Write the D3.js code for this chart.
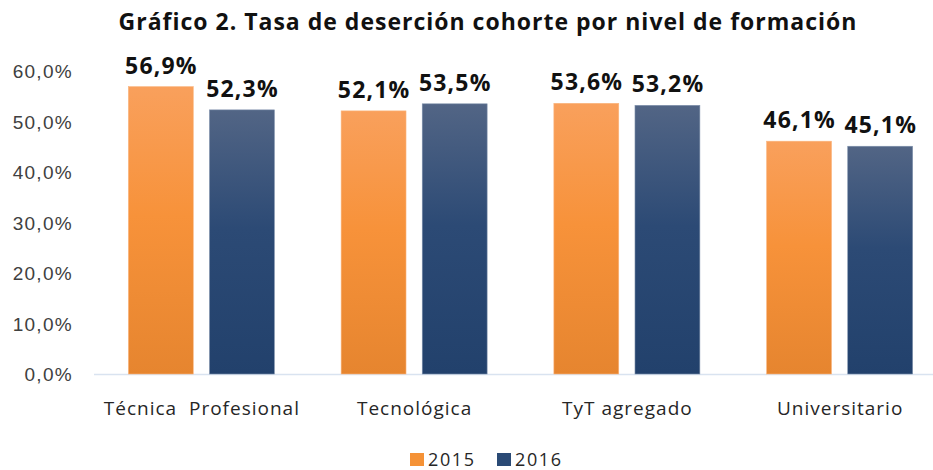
<!DOCTYPE html>
<html lang="es">
<head>
<meta charset="UTF-8">
<title>Tasa de deserción cohorte</title>
<script src="https://cdnjs.cloudflare.com/ajax/libs/d3/7.8.5/d3.min.js"></script>
<style>
    body { margin: 0; background: #fff; }
    svg { display: block; font-family: 'Open Sans', 'Noto Sans', sans-serif; }
    .tick text { fill: #404040; }
</style>
</head>
<body>
<script>
var categories = ["Técnica  Profesional", "Tecnológica", "TyT agregado", "Universitario"];
var years = ["2015", "2016"];
var values2015 = [56.9, 52.1, 53.6, 46.1];
var values2016 = [52.3, 53.5, 53.2, 45.1];
var yTicks = [0, 10, 20, 30, 40, 50, 60];

var W = 933, H = 470;
var base = 374, top60 = 71;

var svg = d3.select("body").append("svg")
    .attr("width", W).attr("height", H);

var defs = svg.append("defs");
function grad(id, c1, c2, c3) {
    var g = defs.append("linearGradient").attr("id", id)
        .attr("x1", 0).attr("y1", 0).attr("x2", 0).attr("y2", 1);
    g.append("stop").attr("offset", "0%").attr("stop-color", c1);
    g.append("stop").attr("offset", "45%").attr("stop-color", c2);
    g.append("stop").attr("offset", "100%").attr("stop-color", c3);
}
grad("g2015", "#f9a05c", "#f7923a", "#e6852f");
grad("g2016", "#526585", "#2c4a75", "#22416c");

var y = d3.scaleLinear().domain([0, 60]).range([base, top60]);
var x0 = d3.scaleBand().domain(categories).range([95, 946]);
var x1 = d3.scaleBand().domain(years).range([0, 146]).paddingInner(0.2);
var groupOff = (x0.bandwidth() - 146) / 2;

// eje y
var yAxis = d3.axisLeft(y).tickValues(yTicks)
    .tickFormat(function(d) { return d3.format(".1f")(d).replace(".", ",") + "%"; })
    .tickSize(0).tickPadding(0);
svg.append("g").attr("transform", "translate(73,0)").call(yAxis)
    .call(function(g) { g.select(".domain").remove(); })
    .selectAll("text").attr("font-size", 19).attr("letter-spacing", 1.3).attr("dy", "0.35em");

// linea base
svg.append("line")
    .attr("x1", 94).attr("x2", W).attr("y1", base + 0.5).attr("y2", base + 0.5)
    .attr("stroke", "#d9e3f0").attr("stroke-width", 1.5);

var rows = categories.map(function(c, i) {
    return { cat: c, vals: [{ year: "2015", v: values2015[i] }, { year: "2016", v: values2016[i] }] };
});

var groups = svg.selectAll("g.grp").data(rows).enter().append("g")
    .attr("class", "grp")
    .attr("transform", function(d) { return "translate(" + (x0(d.cat) + groupOff) + ",0)"; });

groups.selectAll("rect").data(function(d) { return d.vals; }).enter().append("rect")
    .attr("x", function(d) { return x1(d.year); })
    .attr("y", function(d) { return y(d.v); })
    .attr("width", x1.bandwidth())
    .attr("height", function(d) { return base - y(d.v); })
    .attr("fill", function(d) { return "url(#g" + d.year + ")"; })
    .attr("stroke", function(d) { return d.year === "2015" ? "#fbb57e" : "#7e90ab"; })
    .attr("stroke-width", 0.6);

groups.selectAll("text.val").data(function(d) { return d.vals; }).enter().append("text")
    .attr("class", "val")
    .attr("x", function(d) { return x1(d.year) + x1.bandwidth() / 2 + 0.6; })
    .attr("y", function(d) { return y(d.v) - 13; })
    .attr("text-anchor", "middle")
    .attr("font-size", 23).attr("font-weight", "bold").attr("fill", "#111")
    .attr("letter-spacing", 1.2)
    .text(function(d) { return d3.format(".1f")(d.v).replace(".", ",") + "%"; });

// etiquetas de categoria
svg.selectAll("text.cat").data(categories).enter().append("text")
    .attr("class", "cat")
    .attr("x", function(d) { return x0(d) + x0.bandwidth() / 2 + 0.5; })
    .attr("y", 415)
    .attr("text-anchor", "middle")
    .attr("font-size", 19).attr("letter-spacing", 1).attr("fill", "#262626")
    .attr("xml:space", "preserve")
    .style("white-space", "pre")
    .text(function(d) { return d; });

// titulo
svg.append("text")
    .attr("x", 488).attr("y", 30)
    .attr("text-anchor", "middle")
    .attr("font-size", 23).attr("font-weight", "bold").attr("fill", "#111")
    .attr("letter-spacing", 1)
    .text("Gráfico 2. Tasa de deserción cohorte por nivel de formación");

// leyenda
var legColors = { "2015": "#f59236", "2016": "#2a4a75" };
var leg = svg.selectAll("g.leg").data(years).enter().append("g")
    .attr("class", "leg")
    .attr("transform", function(d, i) { return "translate(" + (410 + i * 87) + ",453)"; });
leg.append("rect").attr("width", 14).attr("height", 13)
    .attr("fill", function(d) { return legColors[d]; });
leg.append("text").attr("x", 18).attr("y", 13)
    .attr("font-size", 18).attr("letter-spacing", 1.6).attr("fill", "#262626")
    .text(function(d) { return d; });
</script>
</body>
</html>
